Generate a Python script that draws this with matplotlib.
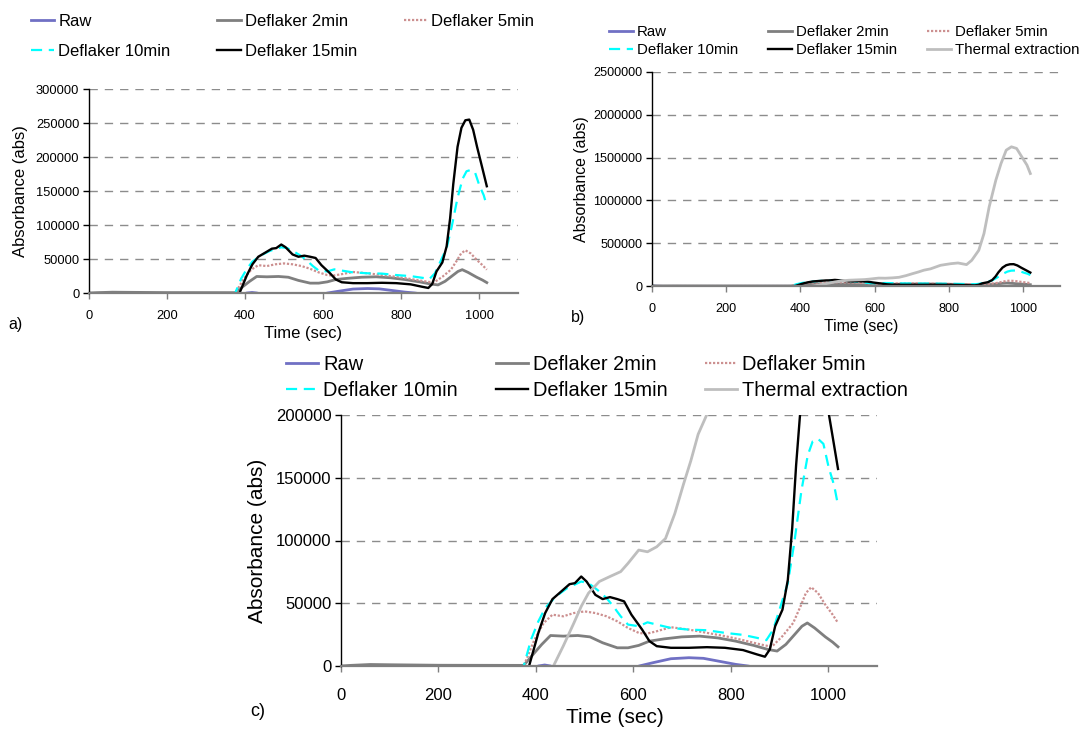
import matplotlib
matplotlib.use("Agg")
import matplotlib.pyplot as plt
from matplotlib.ticker import StrMethodFormatter
import numpy as np

plt.rcParams['font.family'] = ['Liberation Sans', 'DejaVu Sans']

# ---- measured absorbance curves (time in s, absorbance in abs) ----
raw_t = [0, 30, 380, 405, 418, 430, 460, 590, 612, 640, 677, 714, 744, 773, 810, 835, 861, 900, 960, 1020]
raw_v = [0, -4000, -4000, 0, 800, 0, -4000, -3000, 0, 2600, 5800, 6600, 6100, 4000, 1300, 0, -2000, -4000, -5000, -5000]

d2_t = [0, 20, 60, 100, 200, 370, 375, 397, 412, 430, 456, 486, 511, 537, 567, 589, 611, 633, 663, 699,
        736, 773, 810, 847, 876, 895, 913, 931, 946, 957, 972, 994, 1009, 1020]
d2_v = [0, 500, 1200, 1000, 600, 500, 500, 10500, 17200, 24300, 23800, 24300, 23200, 18500, 14500, 14500,
        16400, 19800, 21600, 23200, 23800, 22400, 19800, 16400, 13200, 11900, 17200, 25100, 31700, 34300,
        30300, 23200, 19000, 15300]

d5_t = [0, 20, 370, 375, 397, 416, 434, 456, 478, 500, 522, 545, 567, 589, 611, 626, 648, 677, 714, 751,
        788, 825, 861, 884, 906, 928, 943, 954, 965, 979, 994, 1009, 1020]
d5_v = [0, -1000, -1000, 0, 21000, 34300, 40900, 39600, 42200, 43500, 42200, 39600, 35600, 30300, 26400,
        25600, 27700, 30900, 29000, 26400, 23800, 20600, 17200, 15300, 23800, 34300, 47500, 58100, 62800,
        58100, 48800, 40900, 34300]

d10_t = [0, 20, 370, 375, 390, 405, 419, 441, 464, 493, 508, 526, 545, 559, 574, 589, 611, 629, 648, 677,
         714, 751, 788, 825, 854, 873, 887, 902, 917, 930, 945, 958, 968, 979, 990, 1001, 1012, 1020]
d10_v = [0, -3000, -3000, 0, 21000, 35600, 46200, 55400, 62000, 67300, 66000, 60700, 54100, 47500, 39600,
         33000, 31700, 34800, 33000, 30300, 29000, 28500, 26400, 24800, 22400, 20600, 29000, 47500, 66000,
         97600, 140000, 168000, 179000, 181000, 177000, 158000, 144000, 128000]

d15_t = [0, 40, 370, 386, 405, 419, 434, 452, 469, 480, 493, 504, 522, 537, 552, 567, 581, 596, 618, 633,
         648, 677, 714, 751, 788, 825, 854, 870, 880, 891, 906, 917, 926, 934, 945, 955, 965, 975, 985,
         995, 1008, 1020]
d15_v = [0, -8000, -8000, 0, 26400, 42200, 53300, 59400, 65200, 66000, 71300, 67300, 56700, 53300, 54900,
         53300, 51500, 40900, 29000, 19800, 15800, 14500, 14500, 15000, 14500, 12700, 9200, 7400, 13200,
         31700, 44900, 68600, 110000, 160000, 215000, 243000, 254000, 255000, 240000, 215000, 185000, 157000]

th_t = [0, 40, 100, 200, 380, 410, 436, 456, 478, 493, 508, 530, 552, 574, 589, 611, 629, 648, 666, 685,
        703, 718, 733, 751, 778, 806, 825, 848, 862, 881, 895, 909, 927, 941, 955, 969, 983, 997, 1011, 1020]
th_v = [0, -15000, -20000, -25000, -25000, -15000, 0, 15800, 34300, 47500, 58100, 67300, 71300, 75200,
        81800, 92400, 91000, 95000, 101600, 121400, 145000, 163600, 184700, 200500, 242000, 261000, 269000,
        250000, 300000, 417000, 612000, 924000, 1236000, 1431000, 1587000, 1626000, 1607000, 1509000,
        1412000, 1314000]

labels = ["Raw", "Deflaker 2min", "Deflaker 5min", "Deflaker 10min", "Deflaker 15min", "Thermal extraction"]
data = [(raw_t, raw_v), (d2_t, d2_v), (d5_t, d5_v), (d10_t, d10_v), (d15_t, d15_v), (th_t, th_v)]

styles = [
    dict(color="#7070C4", lw=2.0, ls="-"),
    dict(color="#7F7F7F", lw=2.0, ls="-"),
    dict(color="#CC9090", lw=1.6, ls=(0, (1, 0.8))),
    dict(color="#00FFFF", lw=1.6, ls=(0, (5, 3))),
    dict(color="#000000", lw=1.7, ls="-"),
    dict(color="#BEBEBE", lw=2.0, ls="-"),
]

W, H = 1079, 729
fig = plt.figure(figsize=(W / 100, H / 100), dpi=100)


def box(left, top, right, bottom):
    return [left / W, 1 - bottom / H, (right - left) / W, (bottom - top) / H]


def panel(rect, n_series, ymax, ystep, tick_fs, lab_fs, xlab_pos, ylab_pos, xpad):
    ax = fig.add_axes(rect)
    lines = []
    for i in range(n_series):
        t, v = data[i]
        ln, = ax.plot(t, v, label=labels[i], **styles[i])
        lines.append(ln)
    ax.set_xlim(0, 1100)
    ax.set_ylim(0, ymax)
    ax.set_xticks(np.arange(0, 1001, 200))
    ax.set_yticks(np.arange(0, ymax + 1, ystep))
    ax.yaxis.set_major_formatter(StrMethodFormatter("{x:.0f}"))
    for y in np.arange(ystep, ymax + 1, ystep):
        ax.axhline(y, color="#8C8C8C", lw=1.0, ls=(0, (6, 5)), zorder=0)
    for s in ("top", "right"):
        ax.spines[s].set_visible(False)
    ax.spines["left"].set_color("black")
    ax.spines["left"].set_linewidth(1.0)
    ax.spines["bottom"].set_color("#7F7F7F")
    ax.spines["bottom"].set_linewidth(1.6)
    ax.tick_params(axis="y", direction="out", length=4, width=1, labelsize=tick_fs, pad=3)
    ax.tick_params(axis="x", direction="out", length=4, width=1, color="#7F7F7F",
                   labelsize=tick_fs, pad=xpad)
    ax.set_xlabel("Time (sec)", fontsize=lab_fs, va="center")
    ax.set_ylabel("Absorbance (abs)", fontsize=lab_fs, va="center")
    ax.xaxis.set_label_coords(*xlab_pos)
    ax.yaxis.set_label_coords(*ylab_pos)
    return ax, lines


def legend(lines, anchor_px, fs, hl, cs, ls):
    n = len(lines)
    # row-wise ordering for a 3-column legend
    order = [0, 3, 1, 4, 2, 5] if n == 6 else [0, 3, 1, 4, 2]
    fig.legend([lines[i] for i in order], [labels[i] for i in order], loc="upper left",
               bbox_to_anchor=(anchor_px[0] / W, 1 - anchor_px[1] / H), ncol=3, frameon=False,
               fontsize=fs, handlelength=hl, handletextpad=0.25, columnspacing=cs,
               labelspacing=ls, borderpad=0, borderaxespad=0)


# a) five deflaker series
ax_a, lines_a = panel(box(89, 89, 518, 293), 5, 300000, 50000, 9.3, 12,
                      (0.50, -0.20), (-0.159, 0.5), 8)
legend(lines_a, (31, 14), 12, 1.4, 2.8, 0.9)
fig.text(8 / W, 1 - 325 / H, "a)", fontsize=11.5, va="center", ha="left")

# b) all series including thermal extraction
ax_b, lines_b = panel(box(652, 72, 1060, 286), 6, 2500000, 500000, 9.1, 11.4,
                      (0.512, -0.19), (-0.174, 0.5), 8)
legend(lines_b, (609, 25), 10.8, 1.6, 2.0, 0.3)
fig.text(571 / W, 1 - 317 / H, "b)", fontsize=11.5, va="center", ha="left")

# c) enlarged view of the lower range
ax_c, lines_c = panel(box(341, 415, 877, 666), 6, 200000, 50000, 12, 15,
                      (0.511, -0.207), (-0.155, 0.5), 12)
legend(lines_c, (286, 355), 14.4, 1.6, 1.9, 0.35)
fig.text(250 / W, 1 - 712 / H, "c)", fontsize=13, va="center", ha="left")

fig.savefig("out.png", dpi=100)
